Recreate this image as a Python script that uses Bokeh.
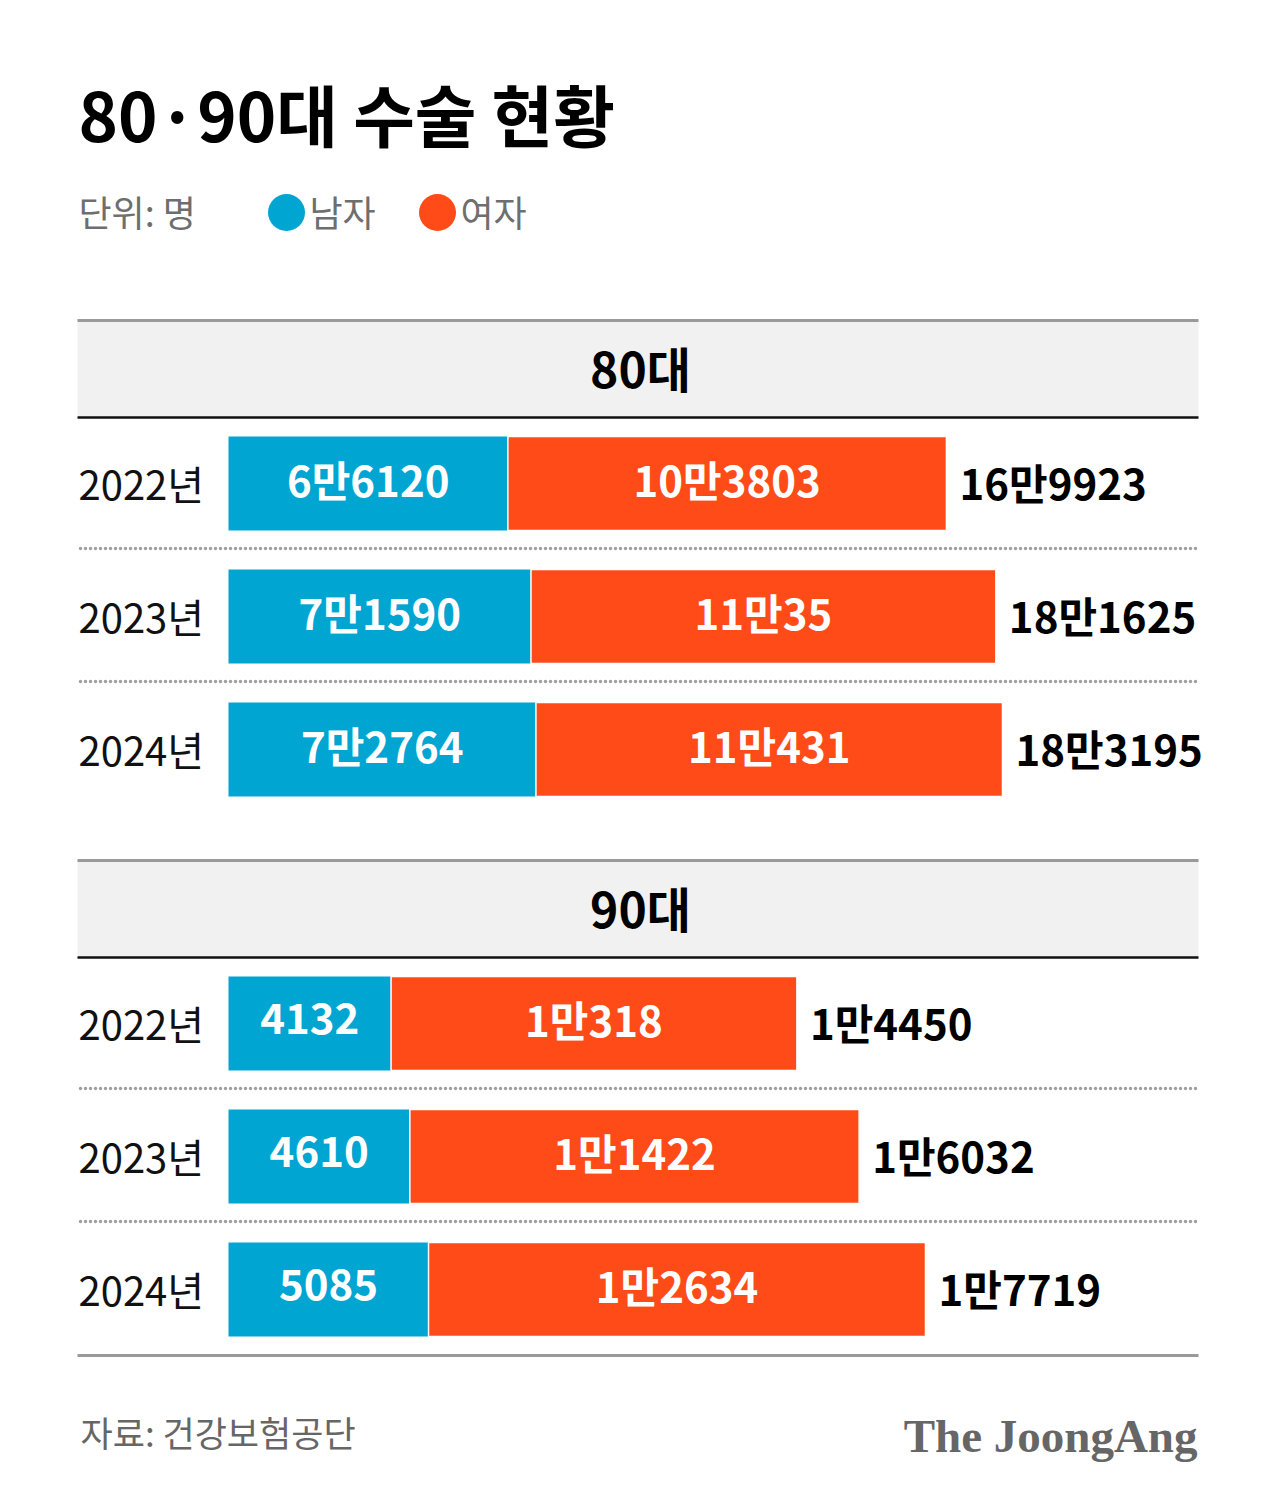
from bokeh.plotting import figure
from bokeh.models import Range1d, ColumnDataSource
from bokeh.core.properties import value
from bokeh.embed import file_html
from bokeh.resources import INLINE

# ---- data ----
years = ["2022년", "2023년", "2024년"]
male80 = [66120, 71590, 72764]
female80 = [103803, 110035, 110431]
total80 = [169923, 181625, 183195]
male90 = [4132, 4610, 5085]
female90 = [10318, 11422, 12634]
total90 = [14450, 16032, 17719]

title = "80·90대 수술 현황"
unit = "단위: 명"
legend_names = ["남자", "여자"]
groups = ["80대", "90대"]
source_txt = "자료: 건강보험공단"
brand = "The JoongAng"

BLUE = "#00a5d1"
ORANGE = "#ff4b17"
FONT = value("Noto Sans CJK KR")

W, H = 1280, 1509
BAR_X0 = 228


def fmt(v):
    if v >= 10000:
        return f"{v // 10000}만{v % 10000}"
    return str(v)


def data_range(vmax, px_end):
    k = (px_end - BAR_X0) / vmax
    return Range1d(-BAR_X0 / k, (W - BAR_X0) / k)


p = figure(width=W, height=H, output_backend="svg", toolbar_location=None,
           x_range=Range1d(0, W), y_range=Range1d(H, 0),
           x_axis_location=None, y_axis_location=None,
           min_border=0, outline_line_color=None,
           background_fill_color="white", border_fill_color="white")
p.grid.visible = False
p.extra_x_ranges = {"x80": data_range(max(total80), 1002),
                    "x90": data_range(max(total90), 925)}

# title and legend
p.text(x=[78], y=[112], text=[title], text_font=FONT, text_font_style="bold",
       text_font_size="67px", text_color="#000000", text_baseline="middle")
p.text(x=[78], y=[210], text=[unit], text_font=FONT, text_font_size="36px",
       text_color="#6e6e6e", text_baseline="middle")
p.scatter(x=[286, 437], y=[212, 212], size=37, color=[BLUE, ORANGE], line_color=None)
p.text(x=[309, 460], y=[210, 210], text=legend_names, text_font=FONT, text_font_size="36px",
       text_color="#6e6e6e", text_baseline="middle")


def panel(top, group, male, female, total, rng):
    # header band
    p.quad(left=[77], right=[1198], top=[top], bottom=[top + 97], color="#f1f1f1", line_color=None)
    p.segment(x0=[77], x1=[1198], y0=[top], y1=[top], line_color="#9a9a9a", line_width=3)
    p.segment(x0=[77], x1=[1198], y0=[top + 97], y1=[top + 97], line_color="#111111", line_width=2.5)
    p.text(x=[640], y=[top + 46], text=[group], text_font=FONT, text_font_style="bold",
           text_font_size="48px", text_color="#000000", text_align="center", text_baseline="middle")
    ys = [top + 163 + 133 * i for i in range(3)]
    # separators
    for i in range(2):
        yy = ys[i] + 65
        p.segment(x0=[80], x1=[1196], y0=[yy], y1=[yy], line_color="#a0a0a0",
                  line_width=3.5, line_dash="0 5", line_cap="round")
    p.text(x=[78] * 3, y=[y - 1 for y in ys], text=years, text_font=FONT, text_font_size="40px",
           text_color="#111111", text_baseline="middle")
    src = ColumnDataSource(dict(
        y=ys, male=male, female=female, total=total,
        mx=[m / 2 for m in male], fx=[m + f / 2 for m, f in zip(male, female)],
        ml=[fmt(v) for v in male], fl=[fmt(v) for v in female], tl=[fmt(v) for v in total],
        zero=[0] * 3))
    p.hbar(y="y", left="zero", right="male", height=94, source=src, color=BLUE,
           line_color=None, x_range_name=rng)
    p.hbar(y="y", left="male", right="total", height=94, source=src, fill_color=ORANGE,
           line_color="white", line_width=1.5, x_range_name=rng)
    p.text(x="mx", y="y", text="ml", source=src, x_range_name=rng, y_offset=-5, text_font=FONT,
           text_font_style="bold", text_font_size="42px", text_color="white",
           text_align="center", text_baseline="middle")
    p.text(x="fx", y="y", text="fl", source=src, x_range_name=rng, y_offset=-5, text_font=FONT,
           text_font_style="bold", text_font_size="42px", text_color="white",
           text_align="center", text_baseline="middle")
    p.text(x="total", y="y", text="tl", source=src, x_range_name=rng, x_offset=13, y_offset=-2,
           text_font=FONT, text_font_style="bold", text_font_size="42px",
           text_color="#000000", text_baseline="middle")


panel(320, groups[0], male80, female80, total80, "x80")
panel(860, groups[1], male90, female90, total90, "x90")

p.segment(x0=[77], x1=[1198], y0=[1355], y1=[1355], line_color="#9a9a9a", line_width=3)

p.text(x=[80], y=[1431], text=[source_txt], text_font=FONT, text_font_size="35px",
       text_color="#666666", text_baseline="middle")
p.text(x=[1197], y=[1435], text=[brand], text_font=value("Liberation Serif"),
       text_font_style="bold", text_font_size="47px", text_color="#666666",
       text_align="right", text_baseline="middle")

open("out.html", "w").write(file_html(p, INLINE))
